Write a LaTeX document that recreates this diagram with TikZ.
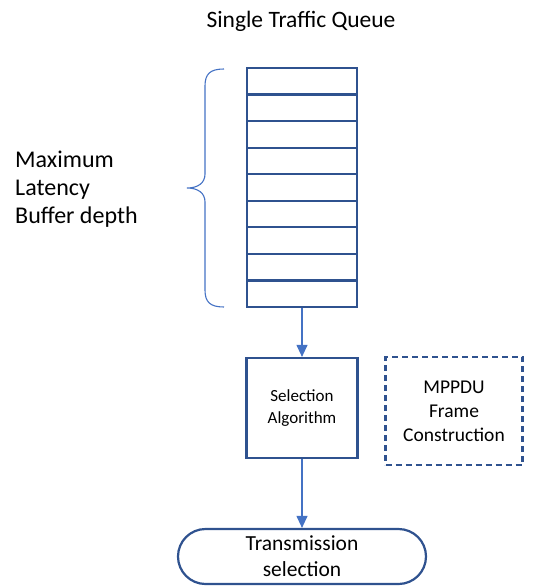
\documentclass[tikz,border=0pt]{standalone}
\usepackage{fontspec}
\setmainfont{Carlito}
\usetikzlibrary{arrows.meta,shapes.misc}
\definecolor{boxblue}{HTML}{2F528F}
\definecolor{linkblue}{HTML}{4472C4}
\tikzset{
  boxline/.style={draw=boxblue, line width=2.2pt},
  stackbox/.style={boxline, rectangle, inner sep=0pt, minimum width=110pt, minimum height=239pt},
  algbox/.style={boxline, rectangle, inner sep=0pt, minimum width=111pt, minimum height=100pt, align=center, font=\fontsize{17}{22}\selectfont},
  framebox/.style={draw=boxblue, line width=2.2pt, dash pattern=on 6pt off 4pt, rectangle, inner sep=0pt, minimum width=137pt, minimum height=108pt, align=center, font=\fontsize{19.5}{24}\selectfont},
  endbox/.style={boxline, rounded rectangle, inner sep=0pt, minimum width=248pt, minimum height=55pt, align=center, font=\fontsize{21.5}{26}\selectfont},
  flow/.style={draw=linkblue, line width=1.1pt, -{Triangle[length=12pt,width=11pt]}},
  label/.style={inner sep=0pt, font=\fontsize{23.5}{28}\selectfont},
}
\begin{document}
\begin{tikzpicture}[x=1pt, y=-1pt]
  \useasboundingbox (0,0) rectangle (541,586);
  % title
  \node[label] (title) at (301,21) {Single Traffic Queue};
  % queue with nine slots
  \node[stackbox] (queue) at (302,187.5) {};
  \foreach \k in {1,...,8} {
    \draw[boxline] (247,{68+\k*26.56}) -- (357,{68+\k*26.56});
  }
  % brace spanning the queue
  \draw[draw=linkblue, line width=1.1pt]
    (224,69) .. controls (210,69) and (205,74) .. (205,86)
    -- (205,174) .. controls (205,183) and (198,188) .. (187,188)
    .. controls (198,188) and (205,193) .. (205,202)
    -- (205,290) .. controls (205,302) and (210,307) .. (224,307);
  \node[label, align=left, anchor=west, font=\fontsize{24}{28}\selectfont] (depth) at (15,189)
    {Maximum\\Latency\\Buffer depth};
  % processing stages
  \node[algbox] (alg) at (302,408) {Selection\\Algorithm};
  \node[framebox] (mpdu) at (454,411) {MPPDU\\Frame\\Construction};
  \node[endbox] (tx) at (302,556.5) {Transmission\\selection};
  % flow
  \draw[flow] (queue.south) -- (alg.north);
  \draw[flow] (alg.south) -- (tx.north);
\end{tikzpicture}
\end{document}
